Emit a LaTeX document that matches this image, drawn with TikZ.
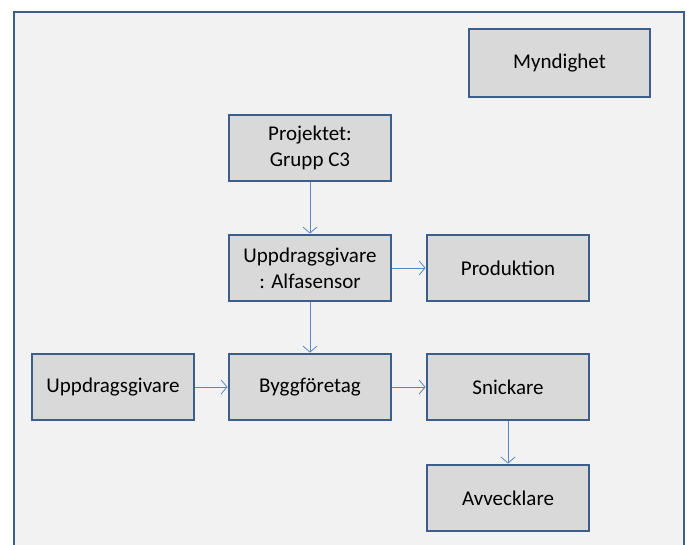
\documentclass[tikz,border=0pt]{standalone}
\usepackage{fontspec}
\setmainfont{Carlito}
\usetikzlibrary{arrows.meta}
\definecolor{bgc}{HTML}{F2F2F2}
\definecolor{boxfill}{HTML}{D9D9D9}
\definecolor{boxline}{HTML}{3B5E8C}
\definecolor{arrowc}{HTML}{5B86BF}
\tikzset{
  box/.style={draw=boxline, line width=2.8pt, fill=boxfill, minimum width=162pt, minimum height=66pt, align=center, font=\fontsize{21}{26}\selectfont, inner sep=0pt},
  conn/.style={draw=arrowc, line width=0.8pt, -{Straight Barb[length=6pt,width=14pt]}}
}
\begin{document}
\begin{tikzpicture}[x=1pt,y=-1pt]
\useasboundingbox (0,0) rectangle (687,545);
\fill[white] (0,0) rectangle (687,545);
\begin{scope}
\clip (0,0) rectangle (687,545);
\draw[draw=boxline, line width=2.8pt, fill=bgc] (14,12) rectangle (684,570);
\end{scope}
\node[box, minimum width=181pt, minimum height=68pt] (myn) at (559.5,63) {Myndighet};
\node[box] (proj) at (310,148) {Projektet:\\Grupp C3};
\node[box] (alfa) at (310,268) {Uppdragsgivare\\: Alfasensor};
\node[box] (prod) at (508,268) {Produktion};
\node[box] (uppd) at (113,387) {Uppdragsgivare};
\node[box] (bygg) at (310,387) {Byggföretag};
\node[box] (snick) at (508,387) {Snickare};
\node[box] (avv) at (508,498) {Avvecklare};
\draw[conn] (proj) -- (alfa);
\draw[conn] (alfa) -- (prod);
\draw[conn] (alfa) -- (bygg);
\draw[conn] (uppd) -- (bygg);
\draw[conn] (bygg) -- (snick);
\draw[conn] (snick) -- (avv);
\end{tikzpicture}
\end{document}
